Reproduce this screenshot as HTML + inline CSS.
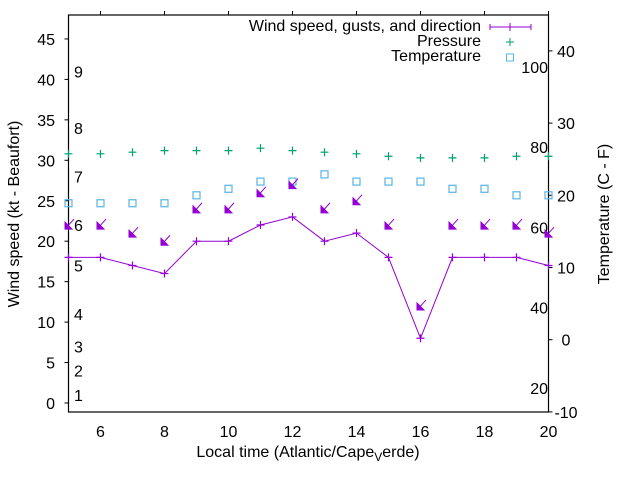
<!DOCTYPE html>
<html><head><meta charset="utf-8"><style>
body{margin:0;background:#fff}
svg text{font-family:"Liberation Sans",sans-serif;font-size:16px;fill:#000}
</style></head><body>
<svg id="chart" width="640" height="480" xmlns="http://www.w3.org/2000/svg">
<g id="axes"></g>
<g id="marks"></g>
</svg>
<script>
const hours=[5,6,7,8,9,10,11,12,13,14,15,16,17,18,19,20];
const windSpeed=[18,18,17,16,20,20,22,23,20,21,18,8,18,18,18,17];
const gusts=[22,22,21,20,24,24,26,27,24,25,22,12,22,22,22,21];
const pressure=[30.8,30.8,31.0,31.2,31.2,31.2,31.5,31.2,31.0,30.8,30.5,30.3,30.3,30.3,30.5,30.5];
const temperature=[18.9,18.9,18.9,18.9,20,20.9,21.9,21.9,22.9,21.9,21.9,21.9,20.9,20.9,20,20];
const xTicks=[6,8,10,12,14,16,18,20];
const yTicks=[0,5,10,15,20,25,30,35,40,45];
const y2Ticks=[-10,0,10,20,30,40];
const fTicks=[20,40,60,80,100];
const beaufort=[1,2,3,4,5,6,7,8,9];
const beaufortKt=[1,4,7,11,17,22,28,34,41];

const NS='http://www.w3.org/2000/svg';
const L=68.5,R=548.5,T=15,B=412;
const X=h=>L+(h-5)*32;
const Y=v=>403-v*8.09;
const Y2=c=>339.7-c*7.22;
function mk(parent,tag,attrs,txt){const e=document.createElementNS(NS,tag);for(const k in attrs)e.setAttribute(k,attrs[k]);if(txt!==undefined)e.textContent=txt;parent.appendChild(e);return e;}
const ax=document.getElementById('axes'),mg=document.getElementById('marks');
let e=mk(ax,'rect',{x:L,y:T,width:R-L,height:B-T,fill:'none',stroke:'#000','stroke-width':1.2});


xTicks.forEach(t=>{
 let l=mk(ax,'line',{x1:X(t),x2:X(t),y1:T,y2:T-4,stroke:'#000'});
 
 
 let tx=mk(ax,'text',{x:X(t),y:437,'text-anchor':'middle'},t);
 
 
});
yTicks.forEach(t=>{
 let l=mk(ax,'line',{x1:L,x2:L-4,y1:Y(t),y2:Y(t),stroke:'#000'});
 
 
 let tx=mk(ax,'text',{x:55,y:Y(t)+6,'text-anchor':'end'},t);
 
 
});
y2Ticks.forEach(t=>{
 let l=mk(ax,'line',{x1:R,x2:R+4,y1:Y2(t),y2:Y2(t),stroke:'#000'});
 
 
 let tx=mk(ax,'text',{x:566,y:Y2(t)+6,'text-anchor':'middle'},t);
 
 
});
fTicks.forEach(f=>{
 let tx=mk(ax,'text',{x:548,y:Y2((f-32)*5/9)+6,'text-anchor':'end'},f);
 
 
});
beaufort.forEach((b,i)=>{
 let tx=mk(ax,'text',{x:74,y:Y(beaufortKt[i])+6},b);
 
 
});
e=mk(ax,'text',{x:308,y:457,'text-anchor':'middle'});


e.innerHTML='Local time (Atlantic/Cape<tspan dy="4" font-size="12">V</tspan><tspan dy="-4">erde)</tspan>';
e=mk(ax,'text',{x:0,y:0,'text-anchor':'middle',transform:'translate(19,214) rotate(-90)'},'Wind speed (kt - Beaufort)');


e=mk(ax,'text',{x:0,y:0,'text-anchor':'middle',transform:'translate(609,214) rotate(-90)'},'Temperature (C - F)');



const PUR='#9400d3',GRN='#009e73',BLU='#56b4e9';
function plus(x,y,c,n){let p=mk(mg,'path',{d:`M${x-4},${y}h8M${x},${y-4}v8`,stroke:c,'stroke-width':1.2,fill:'none'});}
let pl=mk(mg,'polyline',{points:hours.map((h,i)=>X(h)+','+Y(windSpeed[i])).join(' '),fill:'none',stroke:PUR,'stroke-width':1});


hours.forEach((h,i)=>{
 plus(X(h),Y(windSpeed[i]),PUR,'wind-speed-point');
 plus(X(h),Y(pressure[i]),GRN,'pressure-point');
 let s=mk(mg,'rect',{x:X(h)-3.5,y:Y2(temperature[i])-3.5,width:7,height:7,fill:'none',stroke:BLU,'stroke-width':1.2});
 
 
 const tx=X(h)-3.5,ty=Y(gusts[i]-0.5)+0;
 let a=mk(mg,'path',{d:`M${tx+9},${ty-10}L${tx},${ty}M${tx},${ty}l0,-7l7,7z`,stroke:PUR,'stroke-width':1,fill:PUR});
 
 
});
const lg=mk(ax,'g',{});


[['Wind speed, gusts, and direction',31],['Pressure',46],['Temperature',61]].forEach(([t,y])=>{
 let tx=mk(lg,'text',{x:481,y:y,'text-anchor':'end'},t);
 
 
});
e=mk(lg,'path',{d:'M490,27h41M490,24v6M531,24v6M510,23v8',stroke:PUR,fill:'none'});


e=mk(lg,'path',{d:'M506,42h8M510,38v8',stroke:GRN,fill:'none'});


e=mk(lg,'rect',{x:506.5,y:54,width:7,height:7,stroke:BLU,fill:'none'});


</script>
</body></html>
